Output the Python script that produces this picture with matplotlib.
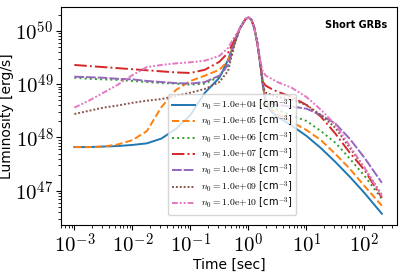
import numpy as np
import matplotlib
matplotlib.use('Agg')
import matplotlib.pyplot as plt
from matplotlib.ticker import FixedLocator, FuncFormatter, LogLocator, NullFormatter

plt.rcParams['mathtext.fontset'] = 'cm'

# log10 of time [sec]
log_t = [-3, -2.75, -2.5, -2.25, -2, -1.75, -1.5, -1.25, -1, -0.75, -0.5, -0.35, -0.25,
         -0.15, -0.05, 0, 0.05, 0.1, 0.15,
         0.2, 0.25, 0.3, 0.4, 0.5, 0.75, 1, 1.25, 1.5, 1.75, 2, 2.3]

# log10 of luminosity [erg/s], one list per density
peak = [50.04, 50.22, 50.25, 50.21, 50.06, 49.79]

lum_1e04 = [47.82, 47.82, 47.83, 47.84, 47.86, 47.89, 47.98, 48.16, 48.42, 48.84, 49.12, 49.46, 49.76] + peak + \
           [49.42, 48.99, 48.61, 48.48, 48.39, 48.22, 48.03, 47.80, 47.54, 47.26, 46.96, 46.57]
lum_1e05 = [47.82, 47.82, 47.83, 47.87, 47.95, 48.12, 48.57, 48.89, 49.06, 49.16, 49.27, 49.44, 49.76] + peak + \
           [49.42, 48.99, 48.63, 48.52, 48.44, 48.29, 48.14, 47.95, 47.69, 47.41, 47.09, 46.72]
lum_1e06 = [49.12, 49.10, 49.09, 49.08, 49.06, 49.04, 49.02, 49.01, 48.99, 49.01, 49.14, 49.36, 49.72] + peak + \
           [49.42, 48.99, 48.65, 48.57, 48.52, 48.41, 48.31, 48.12, 47.90, 47.60, 47.28, 46.85]
lum_1e07 = [49.36, 49.34, 49.32, 49.30, 49.28, 49.26, 49.24, 49.22, 49.21, 49.27, 49.42, 49.59, 49.81] + peak + \
           [49.42, 49.04, 48.97, 48.91, 48.86, 48.76, 48.61, 48.39, 48.07, 47.71, 47.39, 46.87]
lum_1e08 = [49.14, 49.13, 49.12, 49.10, 49.09, 49.06, 49.04, 49.02, 49.01, 49.04, 49.16, 49.36, 49.74] + peak + \
           [49.42, 48.99, 48.69, 48.63, 48.61, 48.58, 48.54, 48.42, 48.26, 47.97, 47.62, 47.15]
lum_1e09 = [48.44, 48.50, 48.56, 48.60, 48.65, 48.69, 48.72, 48.78, 48.84, 48.91, 49.04, 49.25, 49.70] + peak + \
           [49.42, 48.95, 48.84, 48.80, 48.76, 48.71, 48.61, 48.42, 48.18, 47.80, 47.43, 46.92]
lum_1e10 = [48.56, 48.69, 48.84, 48.99, 49.17, 49.32, 49.36, 49.39, 49.41, 49.44, 49.53, 49.68, 49.87] + peak + \
           [49.46, 49.23, 49.16, 49.10, 49.04, 48.93, 48.76, 48.52, 48.24, 47.84, 47.43, 46.90]

densities = ['1.0e+04', '1.0e+05', '1.0e+06', '1.0e+07', '1.0e+08', '1.0e+09', '1.0e+10']
series = [lum_1e04, lum_1e05, lum_1e06, lum_1e07, lum_1e08, lum_1e09, lum_1e10]
styles = ['-', '--', ':', '-.', (0, (5, 1)), (0, (1, 1)), (0, (3, 1, 1, 1, 1, 1))]
colors = ['tab:blue', 'tab:orange', 'tab:green', 'tab:red', 'tab:purple', 'tab:brown', 'tab:pink']

x_decades = [-3, -2, -1, 0, 1, 2]
y_decades = [47, 48, 49, 50]

fig = plt.figure(figsize=(4.03, 2.73), dpi=100)
ax = fig.add_axes([0.151, 0.176, 0.834, 0.799])

t = 10 ** np.array(log_t)
for dens, lum, ls, c in zip(densities, series, styles, colors):
    ax.plot(t, 10 ** np.array(lum), linestyle=ls, color=c, lw=1.4,
            label=r'$n_0 = \mathrm{' + dens.replace('+', '{+}') + r'}$ [cm$^{-3}$]')

ax.set_xscale('log')
ax.set_yscale('log')
ax.set_xlim(10 ** -3.233, 10 ** 2.56)
ax.set_ylim(10 ** 46.36, 10 ** 50.45)

pow_fmt = FuncFormatter(lambda v, pos: r'$10^{%d}$' % round(np.log10(v)))
ax.xaxis.set_major_locator(FixedLocator([10.0 ** d for d in x_decades]))
ax.yaxis.set_major_locator(FixedLocator([10.0 ** d for d in y_decades]))
ax.xaxis.set_major_formatter(pow_fmt)
ax.yaxis.set_major_formatter(pow_fmt)
ax.xaxis.set_minor_locator(LogLocator(base=10, subs=np.arange(2, 10), numticks=20))
ax.yaxis.set_minor_locator(LogLocator(base=10, subs=np.arange(2, 10), numticks=20))
ax.xaxis.set_minor_formatter(NullFormatter())
ax.yaxis.set_minor_formatter(NullFormatter())
ax.tick_params(axis='both', which='major', labelsize=15, pad=2)

ax.set_xlabel('Time [sec]', fontsize=10)
ax.set_ylabel('Luminosity [erg/s]', fontsize=10)
ax.xaxis.set_label_coords(0.5, -0.15)
ax.yaxis.set_label_coords(-0.14, 0.5)
ax.text(0.97, 0.94, 'Short GRBs', transform=ax.transAxes, ha='right', va='top',
        fontsize=7, fontweight='bold')
ax.legend(loc='lower left', bbox_to_anchor=(0.305, 0.025), fontsize=7, handlelength=2.4,
          labelspacing=0.12, borderpad=0.35, handletextpad=0.6, framealpha=0.8)

plt.savefig('out.png', dpi=100)
